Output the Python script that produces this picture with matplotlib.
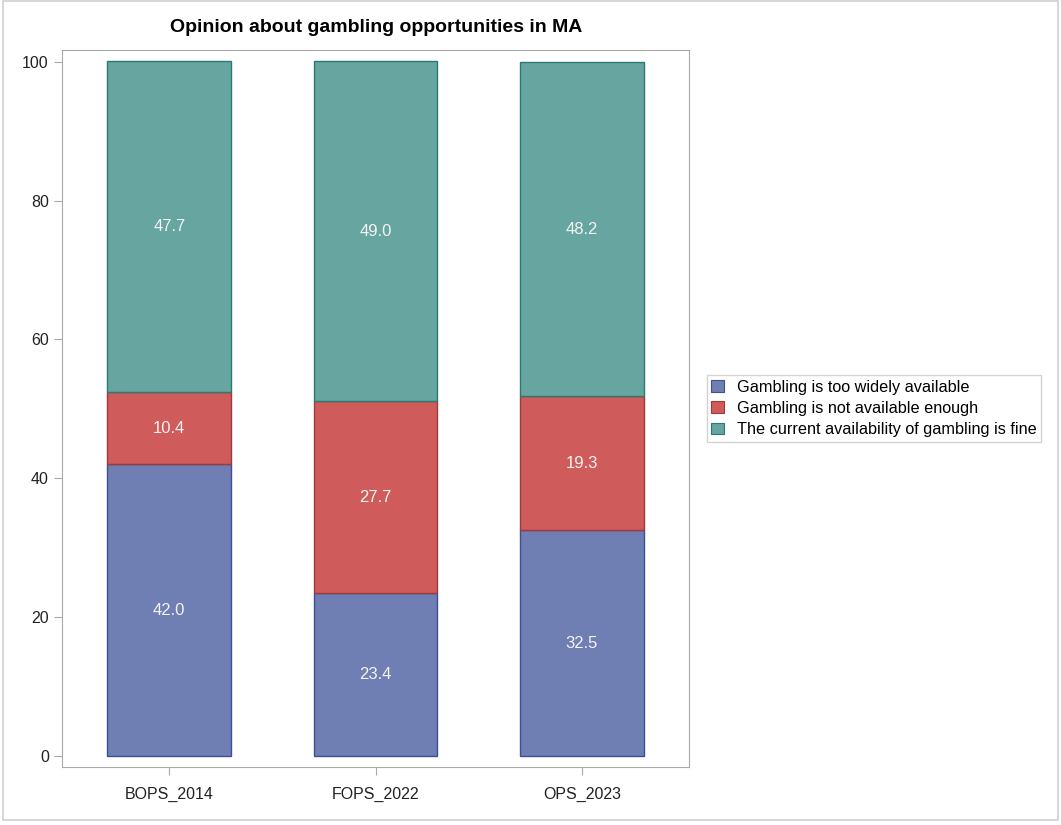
import matplotlib.pyplot as plt
from matplotlib.patches import Rectangle
import numpy as np

plt.rcParams['font.family'] = ['Liberation Sans', 'DejaVu Sans']

surveys = ['BOPS_2014', 'FOPS_2022', 'OPS_2023']
opinions = ['Gambling is too widely available',
            'Gambling is not available enough',
            'The current availability of gambling is fine']
too_wide = [42.0, 23.4, 32.5]
not_enough = [10.4, 27.7, 19.3]
fine = [47.7, 49.0, 48.2]

fills = ['#6f7eb3', '#d05b5b', '#66a5a0']
edges = ['#3f4f90', '#a03a3a', '#2a7a72']

fig = plt.figure(figsize=(10.61, 8.25), dpi=100)
ax = fig.add_axes([62 / 1061, 1 - 767 / 825, 627 / 1061, 717 / 825])

# frame around the whole graph
fig.patches.append(Rectangle((3 / 1061, 1 - 820 / 825), 1055 / 1061, 819 / 825,
                             transform=fig.transFigure, fill=False,
                             edgecolor='#d0d0d0', linewidth=1.2))

x = np.arange(len(surveys))
bottom = np.zeros(len(surveys))
for vals, label, fc, ec in zip([too_wide, not_enough, fine], opinions, fills, edges):
    vals = np.array(vals)
    ax.bar(x, vals, width=0.6, bottom=bottom, color=fc, edgecolor=ec,
           linewidth=1.0, label=label)
    for xi, b, v in zip(x, bottom, vals):
        ax.text(xi, b + v / 2, f'{v:.1f}', ha='center', va='center',
                color='#f4f4f4', fontsize=12)
    bottom += vals

ax.set_xlim(-0.52, 2.52)
ax.set_ylim(-1.6, 101.7)
ax.set_yticks([0, 20, 40, 60, 80, 100])
ax.set_xticks(x)
ax.set_xticklabels(surveys)
for s in ax.spines.values():
    s.set_color('#a8a8a8')
ax.tick_params(colors='#a8a8a8', labelcolor='#222222', labelsize=11.5, length=6)
ax.tick_params(axis='x', pad=8)

fig.text(376 / 1061, 1 - 28 / 825, 'Opinion about gambling opportunities in MA',
         ha='center', va='center', fontsize=14, fontweight='bold')

leg = ax.legend(loc='center left', bbox_to_anchor=(1.028, 0.5), fontsize=11.7,
                frameon=True, fancybox=False, handlelength=0.75, handleheight=0.75,
                handletextpad=0.8, labelspacing=0.38, borderpad=0.3,
                borderaxespad=0)
leg.get_frame().set_edgecolor('#c8c8c8')
leg.get_frame().set_linewidth(1.0)
for h in leg.legend_handles:
    h.set_linewidth(0.8)

fig.savefig('out.png', dpi=100)
